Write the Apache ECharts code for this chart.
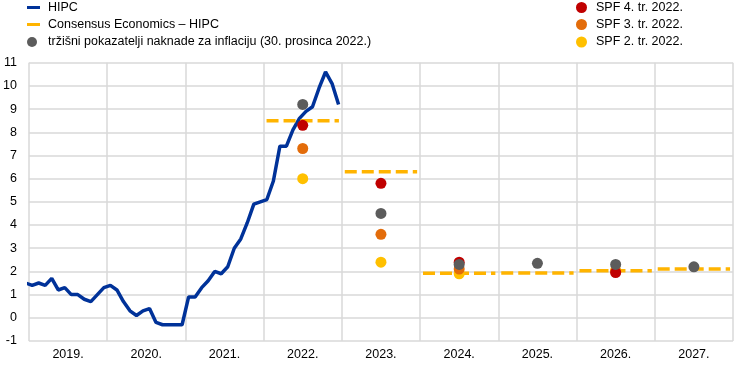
<!DOCTYPE html>
<html>
<head>
<meta charset="utf-8">
<script src="https://cdn.jsdelivr.net/npm/echarts@6/dist/echarts.min.js"></script>
<style>html,body{margin:0;padding:0;background:#fff}#c{width:743px;height:367px}</style>
</head>
<body>
<div id="c"></div>
<script>
// Tick labels (years)
var years = ['2019.', '2020.', '2021.', '2022.', '2023.', '2024.', '2025.', '2026.', '2027.'];
var firstYear = 2019;
// HICP monthly, Dec 2018 - Dec 2022 (first value sits just left of the plot and is clipped)
var hicp = [
  1.5,
  1.4, 1.5, 1.4, 1.7, 1.2, 1.3, 1.0, 1.0, 0.8, 0.7, 1.0, 1.3,
  1.4, 1.2, 0.7, 0.3, 0.1, 0.3, 0.4, -0.2, -0.3, -0.3, -0.3, -0.3,
  0.9, 0.9, 1.3, 1.6, 2.0, 1.9, 2.2, 3.0, 3.4, 4.1, 4.9, 5.0,
  5.1, 5.9, 7.4, 7.4, 8.1, 8.6, 8.9, 9.1, 9.9, 10.6, 10.1, 9.2
];
// Consensus Economics annual forecasts
var consensusYears = [2022, 2023, 2024, 2025, 2026, 2027];
var consensusValues = [8.5, 6.3, 1.92, 1.93, 2.03, 2.1];
// Market-based inflation compensation (30 Dec 2022)
var marketYears = [2022, 2023, 2024, 2025, 2026, 2027];
var marketValues = [9.2, 4.5, 2.3, 2.35, 2.3, 2.2];
// SPF rounds
var spfYears = [2022, 2023, 2024, 2026];
var spfQ4 = [8.3, 5.8, 2.4, 1.95];
var spfQ3 = [7.3, 3.6, 2.1, 2.0];
var spfQ2 = [6.0, 2.4, 1.9, 2.05];

var names = {
  hicp: 'HIPC',
  cons: 'Consensus Economics – HIPC',
  mkt: 'tržišni pokazatelji naknade za inflaciju (30. prosinca 2022.)',
  q4: 'SPF 4. tr. 2022.',
  q3: 'SPF 3. tr. 2022.',
  q2: 'SPF 2. tr. 2022.'
};
var colors = {
  hicp: '#003299', cons: '#FFB400', mkt: '#5C5C5C',
  q4: '#C00000', q3: '#E36C0A', q2: '#FFC000'
};
var FONT = 'Liberation Sans, Arial, sans-serif';

function yx(y) { return (y - firstYear) * 12; }

var hicpData = hicp.map(function (v, i) { return [i - 0.5, v]; });
var consData = [];
consensusYears.forEach(function (y, i) {
  consData.push([yx(y) + 0.45, consensusValues[i]]);
  consData.push([yx(y) + 11.55, consensusValues[i]]);
  consData.push([yx(y) + 11.6, '-']);
});
function pts(ys, vs) { return ys.map(function (y, i) { return [yx(y) + 6, vs[i]]; }); }

function leg(name, icon, left, top, w, h, pad) {
  return {
    data: [{ name: name, icon: icon }],
    left: left, top: top, padding: 0,
    itemWidth: w, itemHeight: h, itemGap: 0,
    selectedMode: false,
    itemStyle: { opacity: 1 },
    textStyle: { fontFamily: FONT, fontSize: 12.5, color: '#000', padding: [0, 0, 0, pad] }
  };
}

var chart = echarts.init(document.getElementById('c'));
chart.setOption({
  animation: false,
  backgroundColor: '#fff',
  legend: [
    leg(names.hicp, 'rect', 27, 1, 13, 3, 3),
    leg(names.cons, 'rect', 27, 18, 13, 3, 3),
    leg(names.mkt, 'circle', 27, 35.5, 10, 10, 6),
    leg(names.q4, 'circle', 576, 1, 11, 11, 4),
    leg(names.q3, 'circle', 576, 18, 11, 11, 4),
    leg(names.q2, 'circle', 576, 35.5, 11, 11, 4)
  ],
  grid: { left: 28, right: 10, top: 62.7, bottom: 26, containLabel: false },
  xAxis: [
    {
      type: 'value', min: 0, max: 108, interval: 12, position: 'top',
      axisLine: { show: false }, axisTick: { show: false }, axisLabel: { show: false },
      splitLine: { show: true, lineStyle: { color: '#D9D9D9', width: 1.5 } }
    },
    {
      type: 'category', data: years, position: 'bottom', boundaryGap: true,
      axisLine: { show: false }, axisTick: { show: false }, splitLine: { show: false },
      axisLabel: { fontFamily: FONT, fontSize: 12.5, color: '#000', margin: 7 }
    }
  ],
  yAxis: {
    type: 'value', min: -1, max: 11, interval: 1,
    axisLine: { show: false }, axisTick: { show: false },
    axisLabel: { fontFamily: FONT, fontSize: 12.5, color: '#000', margin: 12 },
    splitLine: { show: true, lineStyle: { color: '#D9D9D9', width: 1.5 } }
  },
  series: [
    {
      name: names.hicp, type: 'line', xAxisIndex: 0, data: hicpData, clip: true,
      showSymbol: false, symbol: 'none', color: colors.hicp,
      lineStyle: { width: 3.5, color: colors.hicp }, z: 2
    },
    {
      name: names.cons, type: 'line', xAxisIndex: 0, data: consData,
      showSymbol: false, symbol: 'none', connectNulls: false, color: colors.cons,
      lineStyle: { width: 3.5, color: colors.cons, type: [12, 5] }, z: 3
    },
    {
      name: names.q2, type: 'scatter', xAxisIndex: 0, data: pts(spfYears, spfQ2),
      symbolSize: 11, itemStyle: { color: colors.q2, opacity: 1 }, z: 4
    },
    {
      name: names.q3, type: 'scatter', xAxisIndex: 0, data: pts(spfYears, spfQ3),
      symbolSize: 11, itemStyle: { color: colors.q3, opacity: 1 }, z: 5
    },
    {
      name: names.q4, type: 'scatter', xAxisIndex: 0, data: pts(spfYears, spfQ4),
      symbolSize: 11, itemStyle: { color: colors.q4, opacity: 1 }, z: 6
    },
    {
      name: names.mkt, type: 'scatter', xAxisIndex: 0, data: pts(marketYears, marketValues),
      symbolSize: 11, itemStyle: { color: colors.mkt, opacity: 1 }, z: 7
    }
  ]
});
</script>
</body>
</html>
